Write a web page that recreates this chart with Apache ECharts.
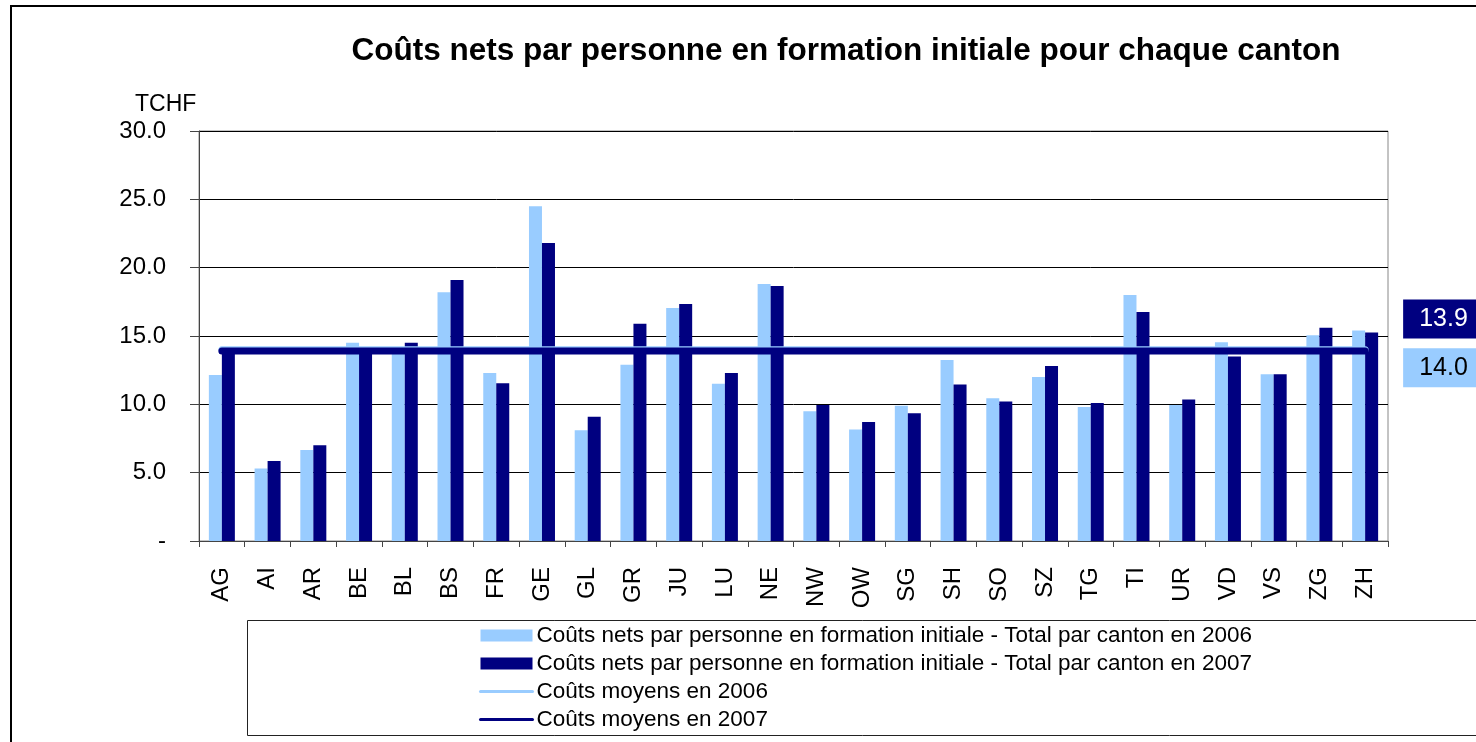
<!DOCTYPE html>
<html>
<head>
<meta charset="utf-8">
<script src="https://cdn.jsdelivr.net/npm/echarts@6/dist/echarts.min.js"></script>
<style>html,body{margin:0;padding:0;background:#fff}#c{width:1476px;height:742px}</style>
</head>
<body>
<div id="c"></div>
<script>
const cantons = ['AG','AI','AR','BE','BL','BS','FR','GE','GL','GR','JU','LU','NE','NW','OW','SG','SH','SO','SZ','TG','TI','UR','VD','VS','ZG','ZH'];
const costs2006 = [12.15,5.3,6.65,14.5,13.7,18.2,12.3,24.5,8.1,12.9,17.05,11.5,18.8,9.5,8.15,9.9,13.25,10.45,12.0,9.8,18.0,9.95,14.55,12.2,15.05,15.4];
const costs2007 = [13.9,5.85,7.0,13.8,14.5,19.1,11.55,21.8,9.1,15.9,17.35,12.3,18.65,9.95,8.7,9.35,11.45,10.2,12.8,10.1,16.75,10.35,13.5,12.2,15.6,15.25];
const avg2006 = 14.0;
const avg2007 = 13.9;
const yTicks = [0,5,10,15,20,25,30];
const legendNames = [
  'Coûts nets par personne en formation initiale - Total par canton en 2006',
  'Coûts nets par personne en formation initiale - Total par canton en 2007',
  'Coûts moyens en 2006',
  'Coûts moyens en 2007'
];
const LIGHT = '#99CCFF', DARK = '#000080';
const font = 'Liberation Sans, Arial, sans-serif';

const chart = echarts.init(document.getElementById('c'), null, {renderer:'canvas'});
chart.setOption({
  animation: false,
  backgroundColor: '#fff',
  textStyle: {fontFamily: font},
  title: {
    text: 'Coûts nets par personne en formation initiale pour chaque canton',
    left: 841, top: 30, textAlign: 'center',
    textStyle: {fontFamily: font, fontSize: 31.5, fontWeight: 'bold', color: '#000'}
  },
  graphic: [
    {type:'rect', shape:{x:11, y:6, width:1500, height:800}, style:{fill:null, stroke:'#000', lineWidth:2}, silent:true, z:-1},
    {type:'rect', shape:{x:247.5, y:620.5, width:1300, height:115}, style:{fill:null, stroke:'#222', lineWidth:1}, silent:true, z:-1},
    {type:'text', left:135, top:93, style:{text:'TCHF', font:'23px ' + font, fill:'#000'}}
  ],
  legend: {
    orient: 'vertical', left: 479, top: 624, padding: 0, itemWidth: 52, itemHeight: 12, itemGap: 5,
    textStyle: {fontFamily: font, fontSize: 22.5, color: '#000', padding:[0,0,0,-1]},
    data: [
      {name: legendNames[0], icon: 'rect'},
      {name: legendNames[1], icon: 'rect'},
      {name: legendNames[2], lineStyle: {width: 3}, itemStyle: {color: 'transparent', borderWidth: 0, opacity: 0}},
      {name: legendNames[3], lineStyle: {width: 3}, itemStyle: {color: 'transparent', borderWidth: 0, opacity: 0}}
    ]
  },
  grid: {left: 199, right: 88, top: 131, bottom: 201, containLabel: false, show: true, borderColor: '#888', borderWidth: 1},
  xAxis: {
    type: 'category', data: cantons,
    axisLine: {lineStyle: {color: '#444', width: 1}},
    axisTick: {show: true, length: 6, lineStyle: {color: '#444'}},
    axisLabel: {rotate: 90, fontSize: 24, color: '#000', margin: 26, fontFamily: font}
  },
  yAxis: {
    type: 'value', min: 0, max: 30, interval: 5,
    axisLine: {show: true, lineStyle: {color: '#444', width: 1}},
    axisTick: {show: true, length: 9, lineStyle: {color: '#444'}},
    splitLine: {lineStyle: {color: '#000', width: 1}},
    axisLabel: {fontSize: 24, color: '#000', margin: 33, fontFamily: font,
      formatter: v => yTicks.includes(v) ? (v === 0 ? '-' : v.toFixed(1)) : ''}
  },
  series: [
    {name: legendNames[0], type: 'bar', data: costs2006, barWidth: 13, barGap: '0%', itemStyle: {color: LIGHT}, z: 2},
    {name: legendNames[1], type: 'bar', data: costs2007, barWidth: 13, barGap: '0%', itemStyle: {color: DARK}, z: 2},
    {name: legendNames[2], type: 'line', data: cantons.map(() => avg2006), symbol: 'none',
      lineStyle: {color: LIGHT, width: 7, cap: 'round'}, itemStyle: {color: LIGHT}, z: 3,
      endLabel: {show: true, formatter: p => Number(p.value).toFixed(1), offset: [30, 18],
        backgroundColor: LIGHT, color: '#000', fontSize: 25, fontFamily: font, padding: [8, 20, 6, 16]}},
    {name: legendNames[3], type: 'line', data: cantons.map(() => avg2007), symbol: 'none',
      lineStyle: {color: DARK, width: 7, cap: 'round'}, itemStyle: {color: DARK}, z: 4,
      endLabel: {show: true, formatter: p => Number(p.value).toFixed(1), offset: [30, -32],
        backgroundColor: DARK, color: '#fff', fontSize: 25, fontFamily: font, padding: [8, 20, 6, 16]}}
  ]
});
</script>
</body>
</html>
